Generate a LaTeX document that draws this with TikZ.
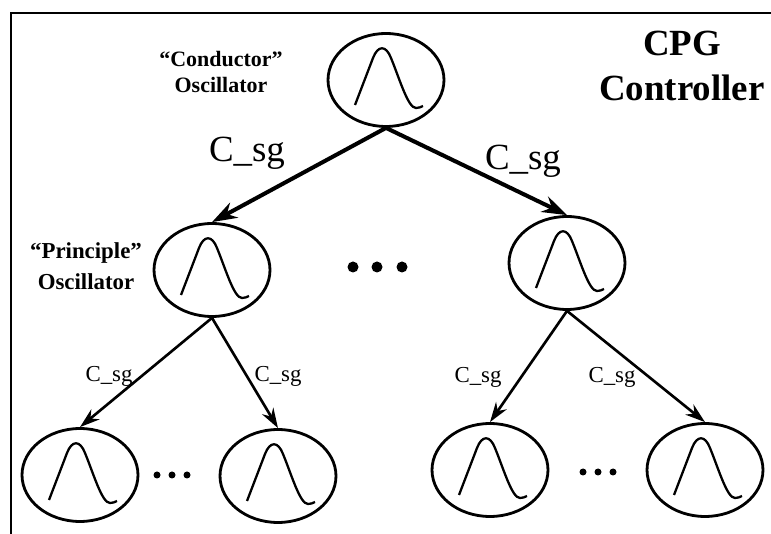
\documentclass[tikz,border=0pt]{standalone}
\usepackage{fontspec}
\setmainfont{Liberation Serif}
\usetikzlibrary{
  arrows.meta,
  shapes.geometric
}

\begin{document}
\begin{tikzpicture}[
  x=0.02cm, y=0.02cm,
  osc/.style={
    ellipse, draw, line width=1.6pt, inner sep=0pt,
    minimum width=2.32cm, minimum height=1.86cm,
    path picture={
      \draw[line width=1.3pt, shift={(path picture bounding box.center)}]
        (-31,-25) -- (-13,22) .. controls (-8,35) and (0,35) .. (5,22)
        .. controls (14,0) and (22,-28) .. (30,-28)
        .. controls (33,-28) and (35,-27) .. (37,-26);
    }
  },
  biglabel/.style={font=\fontsize{12.5}{14.8}\selectfont\bfseries, align=center},
  bigcoup/.style={font=\fontsize{21}{24}\selectfont, anchor=base},
  coup/.style={font=\fontsize{13}{15}\selectfont, anchor=base},
  bigdot/.style={circle, fill, inner sep=0pt, minimum size=0.22cm},
  smalldot/.style={circle, fill, inner sep=0pt, minimum size=0.14cm},
  bigarrow/.style={-{Stealth[length=5mm, width=3.4mm]}, line width=2.3pt},
  arrow/.style={-{Stealth[length=4mm, width=2.6mm]}, line width=1.5pt}
]
 \useasboundingbox (0,0) rectangle (771,534);
 % outer frame, runs off the page at right and bottom
 \draw[line width=1.5pt] (11,521) rectangle (800,-20);

 % top level
 \node[osc] (top) at (386,454) {};
 \node[biglabel] (condlbl) at (221,462) {“Conductor”\\Oscillator};
 \node[font=\fontsize{21}{25.6}\selectfont\bfseries, align=center] (cpg) at (682,468) {CPG\\Controller};

 % second level
 \node[osc] (p1) at (212,264) {};
 \node[osc] (p2) at (567,271) {};
 \node[biglabel, font=\fontsize{13}{17.6}\selectfont\bfseries] (princlbl) at (86,268) {“Principle”\\Oscillator};
 \node[bigdot] (d1) at (353,267) {};
 \node[bigdot] (d2) at (377,267) {};
 \node[bigdot] (d3) at (402,267) {};

 \draw[bigarrow] (top.south) -- (p1.north);
 \draw[bigarrow] (top.south) -- (p2.north);
 \node[bigcoup] (k1) at (247,372) {C\_sg};
 \node[bigcoup] (k2) at (523,364) {C\_sg};

 % bottom level
 \node[osc] (q1) at (80,59) {};
 \node[osc] (q2) at (278,58) {};
 \node[osc] (q3) at (490,64) {};
 \node[osc] (q4) at (705,64) {};
 \foreach \i/\x/\y in {1/157/59, 2/172/59, 3/187/59, 4/583/62, 5/598/62, 6/613/62}
   \node[smalldot] (s\i) at (\x,\y) {};

 \draw[arrow] (p1.south) -- (q1.north); \draw[arrow] (p1.south) -- (q2.north);
 \draw[arrow] (p2.south) -- (q3.north); \draw[arrow] (p2.south) -- (q4.north);
 \node[coup] (k3) at (109,152) {C\_sg};
 \node[coup] (k4) at (278,152) {C\_sg};
 \node[coup] (k5) at (478,151) {C\_sg};
 \node[coup] (k6) at (612,151) {C\_sg};
\end{tikzpicture}
\end{document}
